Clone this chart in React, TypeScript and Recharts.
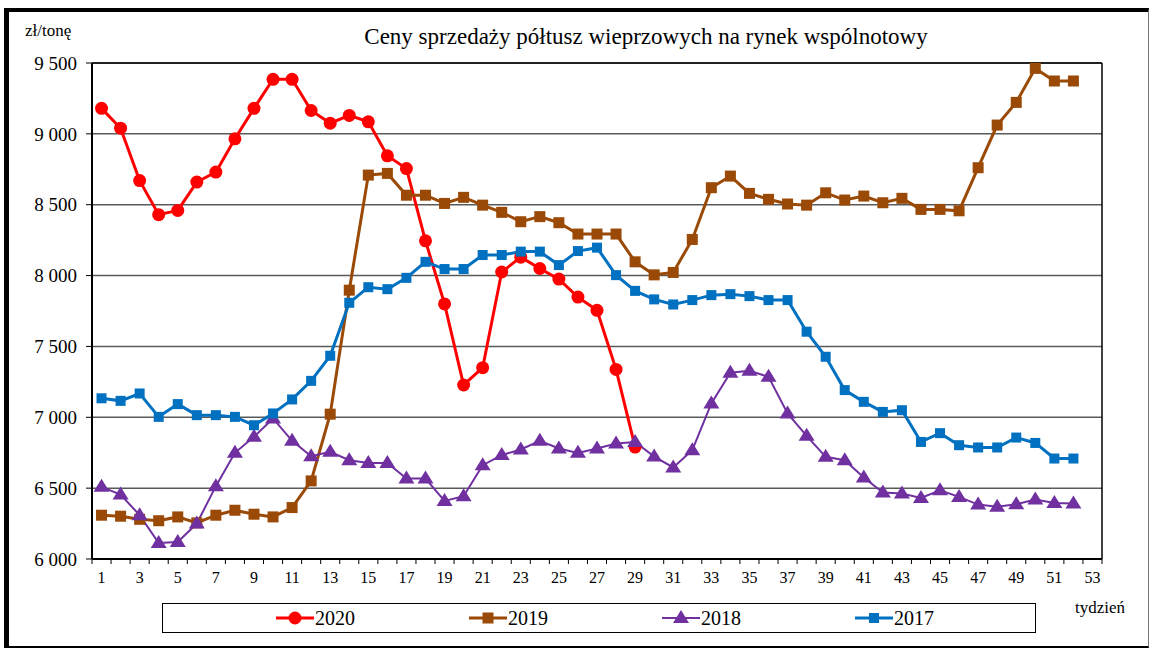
import React from 'react';
import { LineChart, Line, XAxis, YAxis, CartesianGrid, ReferenceLine } from 'recharts';

const weeks = [
  1, 2, 3, 4, 5, 6, 7, 8, 9, 10, 11, 12, 13, 14, 15, 16, 17, 18, 19, 20, 21, 22, 23, 24, 25, 26,
  27, 28, 29, 30, 31, 32, 33, 34, 35, 36, 37, 38, 39, 40, 41, 42, 43, 44, 45, 46, 47, 48, 49, 50, 51, 52,
];

const prices2020 = [
  9180, 9040, 8670, 8430, 8460, 8660, 8730, 8965, 9180, 9385, 9385, 9165, 9075, 9130, 9085, 8845,
  8755, 8245, 7800, 7228, 7350, 8025, 8130, 8050, 7975, 7848, 7755, 7338, 6790,
];

const prices2019 = [
  6309, 6302, 6280, 6270, 6297, 6255, 6309, 6344, 6316, 6297, 6363, 6551, 7022, 7897, 8709, 8721,
  8567, 8567, 8509, 8552, 8497, 8446, 8380, 8416, 8373, 8293, 8293, 8293, 8097, 8005, 8022, 8255,
  8620, 8702, 8580, 8538, 8505, 8497, 8584, 8533, 8561, 8514, 8545, 8467, 8467, 8457, 8761, 9062,
  9222, 9462, 9373, 9373,
];

const prices2018 = [
  6509, 6455, 6309, 6113, 6120, 6250, 6514, 6749, 6862, 6992, 6834, 6725, 6756, 6697, 6678, 6678,
  6568, 6568, 6410, 6443, 6662, 6733, 6773, 6834, 6780, 6749, 6780, 6815, 6826, 6723, 6646, 6768,
  7098, 7314, 7328, 7286, 7027, 6869, 6721, 6697, 6575, 6469, 6462, 6431, 6485, 6438, 6384, 6368,
  6387, 6420, 6396, 6392,
];

const prices2017 = [
  7134, 7116, 7168, 7003, 7093, 7015, 7015, 7003, 6944, 7027, 7126, 7257, 7434, 7808, 7918, 7904,
  7984, 8097, 8046, 8046, 8145, 8145, 8169, 8169, 8074, 8173, 8197, 8003, 7892, 7832, 7796, 7827,
  7862, 7869, 7855, 7827, 7827, 7604, 7427, 7192, 7109, 7038, 7050, 6826, 6888, 6803, 6787, 6787,
  6857, 6819, 6709, 6709,
];

const yTicks = [6000, 6500, 7000, 7500, 8000, 8500, 9000, 9500];
const xLabels = [1, 3, 5, 7, 9, 11, 13, 15, 17, 19, 21, 23, 25, 27, 29, 31, 33, 35, 37, 39, 41, 43, 45, 47, 49, 51, 53];

const FONT = 'Liberation Serif, DejaVu Serif, serif';

const series = [
  { key: 'y2020', name: '2020', color: '#ff0000', width: 3, marker: 'circle' },
  { key: 'y2019', name: '2019', color: '#9a4a06', width: 3, marker: 'square' },
  { key: 'y2018', name: '2018', color: '#7030a0', width: 2, marker: 'triangle' },
  { key: 'y2017', name: '2017', color: '#0070c0', width: 3, marker: 'squareSmall' },
];

const data = weeks.map((w, i) => ({
  week: w,
  y2020: prices2020[i],
  y2019: prices2019[i],
  y2018: prices2018[i],
  y2017: prices2017[i],
}));

// tick marks sit between weeks, labels on odd weeks
const xTicks: number[] = [];
for (let i = 0; i <= 53; i++) {
  xTicks.push(i + 0.5);
  if (i < 53) xTicks.push(i + 1);
}

function Marker({ type, cx, cy, color }: { type: string; cx: number; cy: number; color: string }) {
  if (type === 'circle') return <circle cx={cx} cy={cy} r={6.5} fill={color} />;
  if (type === 'square') return <rect x={cx - 5.5} y={cy - 5.5} width={11} height={11} fill={color} />;
  if (type === 'squareSmall') return <rect x={cx - 5} y={cy - 5} width={10} height={10} fill={color} />;
  return <path d={`M${cx},${cy - 8} L${cx + 8},${cy + 5} L${cx - 8},${cy + 5} Z`} fill={color} />;
}

const makeDot = (type: string, color: string) => (props: any) => {
  const { cx, cy, index } = props;
  if (cy == null || isNaN(cy)) return <g key={index} />;
  return (
    <g key={index}>
      <Marker type={type} cx={cx} cy={cy} color={color} />
    </g>
  );
};

const XTick = (props: any) => {
  const { x, y, payload } = props;
  const v = payload.value;
  if (v % 1 !== 0) {
    return <line x1={x} y1={y - 5} x2={x} y2={y} stroke="#000" strokeWidth={1} />;
  }
  if (!xLabels.includes(v)) return <g />;
  return (
    <text x={x} y={y + 19} textAnchor="middle" fontSize={16} fontFamily={FONT} fill="#000">
      {v}
    </text>
  );
};

const formatY = (v: number) => `${Math.floor(v / 1000)} ${String(v % 1000).padStart(3, '0')}`;

export default function App() {
  return (
    <div style={{ position: 'absolute', left: 0, top: 0, width: 1150, height: 649, background: '#fff', fontFamily: FONT }}>
      <div
        style={{
          position: 'absolute',
          left: 4,
          top: 8,
          width: 1145,
          height: 640,
          boxSizing: 'border-box',
          borderTop: '4px solid #000',
          borderLeft: '5px solid #000',
          borderBottom: '2px solid #000',
          borderRight: '1px solid #777',
        }}
      />
      <div style={{ position: 'absolute', left: 25, top: 21, fontSize: 17 }}>zł/tonę</div>
      <div style={{ position: 'absolute', left: 0, width: 1292, top: 24, fontSize: 23, textAlign: 'center', whiteSpace: 'nowrap' }}>
        Ceny sprzedaży półtusz wieprzowych na rynek wspólnotowy
      </div>
      <div style={{ position: 'absolute', left: 0, top: 0 }}>
        <LineChart width={1150} height={649} data={data} margin={{ top: 63, right: 48, left: 12, bottom: 60 }}>
          <CartesianGrid vertical={false} stroke="#5a5a5a" strokeWidth={1.5} />
          <XAxis
            dataKey="week"
            type="number"
            domain={[0.5, 53.5]}
            ticks={xTicks}
            interval={0}
            height={30}
            tickSize={5}
            tickMargin={0}
            tickLine={false}
            axisLine={{ stroke: '#000', strokeWidth: 2 }}
            tick={<XTick />}
          />
          <YAxis
            domain={[6000, 9500]}
            ticks={yTicks}
            width={80}
            tickSize={6}
            tickMargin={9}
            tickFormatter={formatY}
            tickLine={{ stroke: '#000' }}
            axisLine={{ stroke: '#000', strokeWidth: 2 }}
            tick={{ fill: '#000', fontSize: 19, fontFamily: FONT }}
          />
          <ReferenceLine y={9500} stroke="#000" strokeWidth={1.5} />
          <ReferenceLine x={53.5} stroke="#000" strokeWidth={1.5} />
          {series.map((s) => (
            <Line
              key={s.key}
              dataKey={s.key}
              type="linear"
              stroke={s.color}
              strokeWidth={s.width}
              dot={makeDot(s.marker, s.color)}
              activeDot={false}
              isAnimationActive={false}
              connectNulls={false}
            />
          ))}
        </LineChart>
      </div>
      <div
        style={{
          position: 'absolute',
          left: 162,
          top: 603,
          width: 874,
          height: 30,
          boxSizing: 'border-box',
          border: '1px solid #000',
        }}
      />
      {series.map((s, i) => (
        <div key={s.key} style={{ position: 'absolute', left: 275 + i * 193, top: 606, height: 24, display: 'flex', alignItems: 'center' }}>
          <svg width={40} height={20}>
            <line x1={1} y1={10} x2={39} y2={10} stroke={s.color} strokeWidth={s.width} />
            <Marker type={s.marker} cx={20} cy={10} color={s.color} />
          </svg>
          <span style={{ fontSize: 20 }}>{s.name}</span>
        </div>
      ))}
      <div style={{ position: 'absolute', left: 1075, top: 598, fontSize: 17 }}>tydzień</div>
    </div>
  );
}
